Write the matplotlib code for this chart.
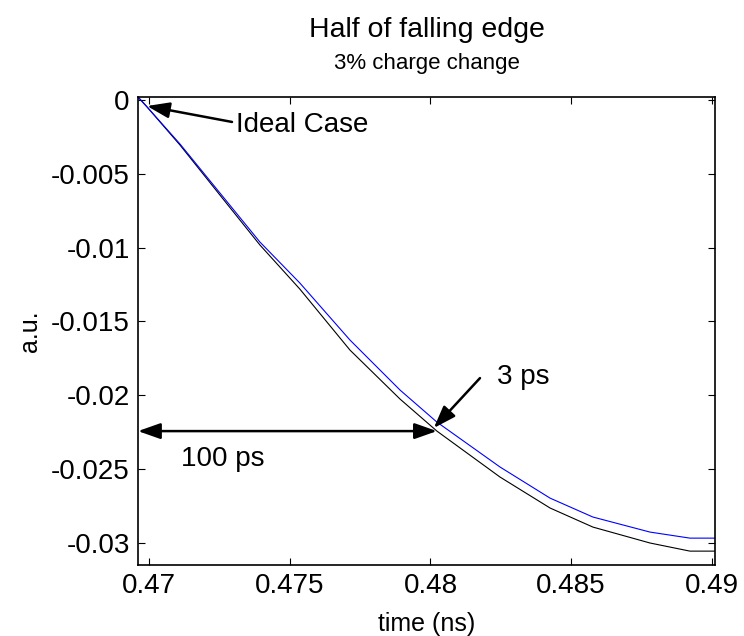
import matplotlib
matplotlib.use("Agg")
import matplotlib.pyplot as plt

plt.rcParams['font.family'] = ['Liberation Sans', 'DejaVu Sans']

# data
time_ns = [0.46961, 0.46993, 0.47110, 0.47252, 0.47394, 0.47536, 0.47714, 0.47892,
           0.48023, 0.48247, 0.48425, 0.48577, 0.48780, 0.48922, 0.49011]
ideal = [0.00020, -0.00047, -0.00305, -0.00644, -0.00982, -0.01281, -0.01694, -0.02026,
         -0.02243, -0.02554, -0.02764, -0.02893, -0.03001, -0.03056, -0.03056]
changed = [0.00020, -0.00047, -0.00298, -0.00630, -0.00962, -0.01240, -0.01626, -0.01965,
           -0.02182, -0.02486, -0.02697, -0.02825, -0.02927, -0.02968, -0.02968]
xticks = [0.47, 0.475, 0.48, 0.485, 0.49]
xticklabels = ['0.47', '0.475', '0.48', '0.485', '0.49']
yticks = [0, -0.005, -0.01, -0.015, -0.02, -0.025, -0.03]
yticklabels = ['0', '-0.005', '-0.01', '-0.015', '-0.02', '-0.025', '-0.03']

fig = plt.figure(figsize=(7.44, 6.36), dpi=100)
ax = fig.add_axes([138/744, 1-565/636, (715-138)/744, (565-97)/636])

ax.plot(time_ns, ideal, color='black', lw=0.8)
ax.plot(time_ns, changed, color=(0, 0, 1), lw=0.8)

ax.set_xlim(0.46961, 0.49011)
ax.set_ylim(-0.0315, 0.0002)
ax.set_xticks(xticks)
ax.set_xticklabels(xticklabels)
ax.set_yticks(yticks)
ax.set_yticklabels(yticklabels)
ax.tick_params(direction='in', top=True, right=True, length=5, width=0.8,
               labelsize=20, pad=6)
for s in ax.spines.values():
    s.set_linewidth(1.2)

ax.set_xlabel('time (ns)', fontsize=18, labelpad=9)
ax.set_ylabel('a.u.', fontsize=18, labelpad=6)

fig.text(0.5735, 1-30/636, 'Half of falling edge', fontsize=20.5, ha='center', va='center')
fig.text(0.5735, 1-63/636, '3% charge change', fontsize=16, ha='center', va='center')

arrow_kw = dict(arrowstyle='-|>,head_length=0.85,head_width=0.3', color='black',
                lw=1.8, mutation_scale=16, shrinkA=0, shrinkB=0)

ax.annotate('', xy=(0.46993, -0.00041), xytext=(0.47295, -0.00149),
            arrowprops=arrow_kw)
ax.annotate('', xy=(0.48012, -0.02222), xytext=(0.48176, -0.01884),
            arrowprops=arrow_kw)
ax.annotate('', xy=(0.48023, -0.02243), xytext=(0.46961, -0.02243),
            arrowprops=dict(arrowstyle='<|-|>,head_length=0.85,head_width=0.3',
                            color='black', lw=1.8, mutation_scale=16,
                            shrinkA=0, shrinkB=0))

fig.text(236/744, 1-125/636, 'Ideal Case', fontsize=20, ha='left', va='center')
fig.text(497/744, 1-377/636, '3 ps', fontsize=20, ha='left', va='center')
fig.text(181/744, 1-459/636, '100 ps', fontsize=20, ha='left', va='center')

fig.savefig('out.png', dpi=100)
